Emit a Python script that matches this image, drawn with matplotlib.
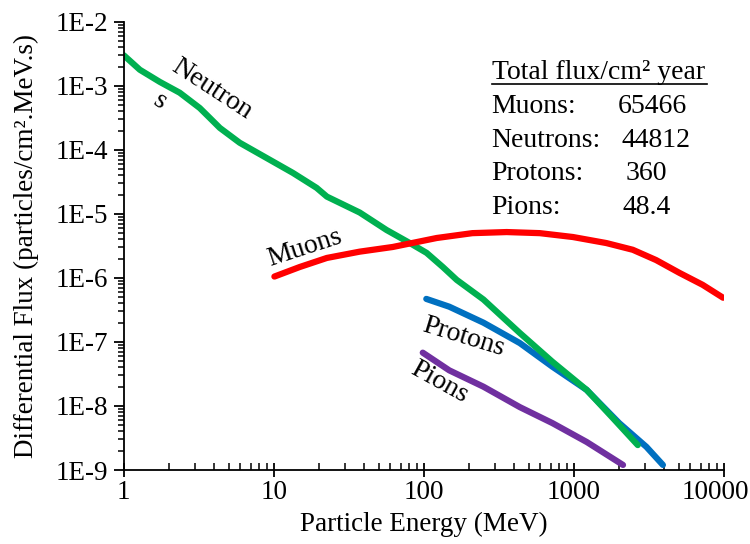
import matplotlib
matplotlib.use('Agg')
import matplotlib.pyplot as plt
import matplotlib.transforms as mtransforms
import numpy as np

plt.rcParams['font.family'] = ['Liberation Serif', 'DejaVu Serif']

# differential flux curves (energy in MeV, flux in particles/cm2.MeV.s)
neutron_e = [1, 1.28, 1.74, 2.36, 3.21, 3.74, 4.37, 5.93, 9.4, 13.4, 19.3, 22.6, 37.4, 56.5,
             80.8, 104.5, 134, 166, 250, 437, 721, 1220, 1820, 2672]
neutron_f = [3.0e-3, 1.78e-3, 1.15e-3, 7.8e-4, 4.5e-4, 3.16e-4, 2.2e-4, 1.29e-4, 7.0e-5, 4.37e-5,
             2.55e-5, 1.86e-5, 1.05e-5, 5.6e-6, 3.5e-6, 2.46e-6, 1.48e-6, 9.3e-7, 4.6e-7, 1.38e-7,
             4.9e-8, 1.78e-8, 6.5e-9, 2.45e-9]

muon_e = [10.1, 14.9, 22.6, 37.4, 62.1, 122, 211, 357, 594, 987, 1650, 2475, 3540, 5060, 7230, 9900]
muon_f = [1.05e-6, 1.48e-6, 2.05e-6, 2.57e-6, 3.04e-6, 4.2e-6, 5.0e-6, 5.2e-6, 5.0e-6, 4.35e-6,
          3.5e-6, 2.75e-6, 1.9e-6, 1.2e-6, 7.8e-7, 4.9e-7]

proton_e = [104, 148, 250, 437, 721, 1220, 2010, 3050, 3930]
proton_f = [4.7e-7, 3.55e-7, 2.0e-7, 9.6e-8, 4.1e-8, 1.78e-8, 5.4e-9, 2.3e-9, 1.2e-9]

pion_e = [98.5, 148, 250, 437, 721, 1220, 2130]
pion_f = [6.8e-8, 3.6e-8, 2.0e-8, 9.6e-9, 5.4e-9, 2.74e-9, 1.2e-9]

totals_names = ['Muons:', 'Neutrons:', 'Protons:', 'Pions:']
totals_vals = ['65466', '44812', '360', '48.4']

fig = plt.figure(figsize=(7.5, 5.44), dpi=100)
ax = fig.add_axes([0.165, 0.136, 0.800, 0.824])

lw = 4.5
style = dict(lw=lw, solid_capstyle='round', solid_joinstyle='round')
ax.plot(neutron_e, neutron_f, color='#00B050', **style)
ax.plot(muon_e, muon_f, color='#FF0000', **style)
ax.plot(proton_e, proton_f, color='#0070C0', zorder=1.9, **style)
ax.plot(pion_e, pion_f, color='#7030A0', **style)

ax.set_xscale('log')
ax.set_yscale('log')
ax.set_xlim(1, 10000)
ax.set_ylim(1e-9, 1e-2)

ax.set_xticks([1, 10, 100, 1000, 10000])
ax.set_xticklabels(['1', '10', '100', '1000', '10000'])
yt = [10.0 ** k for k in range(-9, -1)]
ax.set_yticks(yt)
ax.set_yticklabels(['1E%d' % k for k in range(-9, -1)])

for s in ['top', 'right']:
    ax.spines[s].set_visible(False)
for s in ['left', 'bottom']:
    ax.spines[s].set_linewidth(1.3)

ax.tick_params(axis='x', which='major', direction='inout', length=10, width=1.3, labelsize=19.5, pad=2)
ax.tick_params(axis='x', which='minor', direction='in', length=5, width=1.1)
ax.tick_params(axis='y', which='major', direction='out', length=7, width=1.3, labelsize=19.5, pad=4)
ax.tick_params(axis='y', which='minor', direction='out', length=4, width=1.1)

# keep the last x label inside the figure
last = ax.get_xticklabels()[-1]
last.set_transform(last.get_transform() + mtransforms.ScaledTranslation(-8 / 100, 0, fig.dpi_scale_trans))

ax.set_xlabel('Particle Energy (MeV)', fontsize=19.5, labelpad=5)
ax.set_ylabel('Differential Flux (particles/cm².MeV.s)', fontsize=19.5, labelpad=12)

# curve labels
ax.text(3.86, 8.7e-4, 'Neutron', rotation=-33, fontsize=20, ha='center', va='center')
ax.text(1.74, 5.6e-4, 's', rotation=-33, fontsize=20, ha='center', va='center')
ax.text(16.1, 2.95e-6, 'Muons', rotation=18, fontsize=20, ha='center', va='center')
ax.text(183, 1.2e-7, 'Protons', rotation=-17, fontsize=20, ha='center', va='center')
ax.text(128, 2.37e-8, 'Pions', rotation=-29, fontsize=20, ha='center', va='center')

# totals table
ax.text(0.613, 0.886, 'Total flux/cm² year', transform=ax.transAxes, fontsize=20, ha='left', va='center')
ax.plot([0.613, 0.972], [0.862, 0.862], transform=ax.transAxes, color='black', lw=1.2, clip_on=False)
xv = [0.823, 0.830, 0.837, 0.832]
for i, (n, v) in enumerate(zip(totals_names, totals_vals)):
    yy = 0.810 - i * 0.0745
    ax.text(0.613, yy, n, transform=ax.transAxes, fontsize=20, ha='left', va='center')
    ax.text(xv[i], yy, v, transform=ax.transAxes, fontsize=20, ha='left', va='center')

fig.savefig('out.png', dpi=100)
